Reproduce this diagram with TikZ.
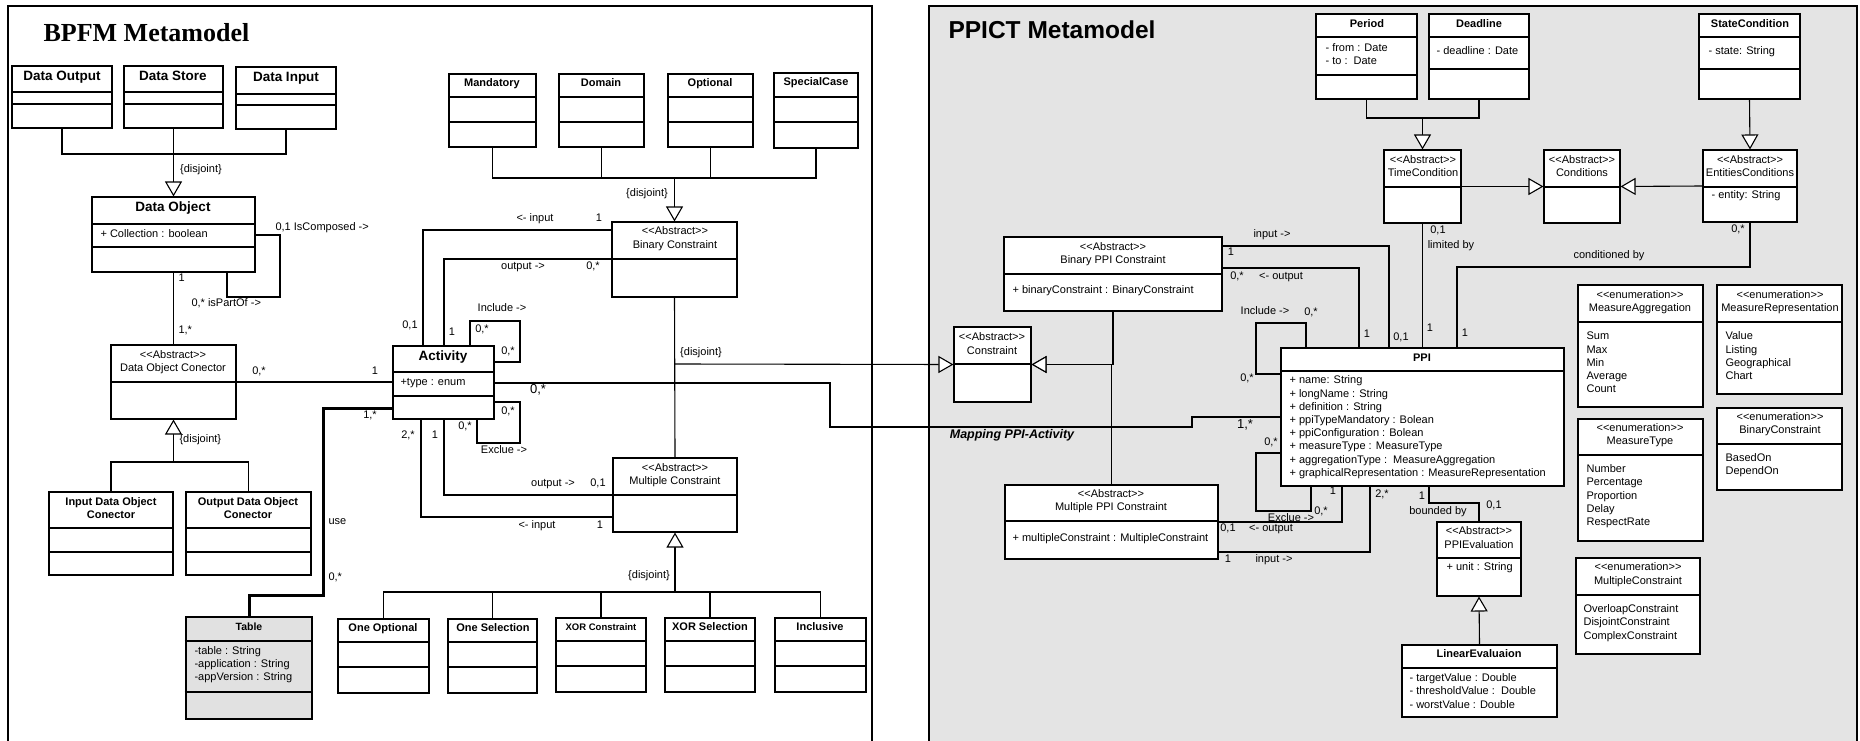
\documentclass[tikz,border=0pt]{standalone}
\usepackage{fontspec}
\setmainfont{Liberation Sans}
\newfontfamily\ttlserif{Liberation Serif}
\usetikzlibrary{arrows.meta,fit}

\definecolor{panelgray}{HTML}{E4E4E4}
\definecolor{tablegray}{HTML}{E1E1E1}

\tikzset{
  cls/.style={draw, fill=white, inner sep=0pt},
  gen/.style={-{Triangle[open,fill=white,length=15pt,width=17pt]}},
  tx/.style={inner sep=0pt, anchor=mid, font=\fontsize{11}{13}\selectfont},
  txl/.style={tx, anchor=mid west},
  nm/.style={tx, font=\bfseries\fontsize{11}{13}\selectfont},
  nmbig/.style={tx, font=\bfseries\fontsize{13.5}{16}\selectfont},
  big/.style={tx, font=\fontsize{13}{15}\selectfont},
}

% class box: [options] name, corner, corner, divider rows
\newcommand{\umlclass}[5][]{%
  \node[cls,#1,fit={(#3) (#4)}] (#2) {};
  \foreach \dy in {#5} {\draw (#2.west |- 0,\dy) -- (#2.east |- 0,\dy);}
}
\newcommand{\stereo}[1]{<\kern0pt<#1>\kern0pt>}

\begin{document}
\begin{tikzpicture}[x=1pt, y=-1pt, line width=1.1pt]
  \useasboundingbox (0,0) rectangle (1860,741);

  % panels
  \draw[fill=panelgray, line width=2.5pt] (929,6) rectangle (1857,760);
  \draw[line width=1.2pt] (8,760) |- (872,6) -- (872,760);
  \node[anchor=base west, inner sep=0pt, font=\ttlserif\bfseries\fontsize{26}{30}\selectfont] (bpfm) at (43,42) {BPFM Metamodel};
  \node[anchor=base west, inner sep=0pt, font=\bfseries\fontsize{24.5}{28}\selectfont] (ppict) at (948,39) {PPICT Metamodel};

  % BPFM classes
  \umlclass{dout}{12,66}{112,128}{92,104}
  \node[nmbig] (dout-n) at (62,78) {Data Output};
  \umlclass{dsto}{124,66}{223,128}{92,104}
  \node[nmbig] (dsto-n) at (173,78) {Data Store};
  \umlclass{dinp}{236,67}{336,129}{94,105}
  \node[nmbig] (dinp-n) at (286,79) {Data Input};

  \umlclass{dobj}{92,197}{255,272}{224,247}
  \node[nmbig] (dobj-n) at (173,209) {Data Object};
  \node[txl] (dobj-a) at (100,235) {+ Collection : boolean};

  \umlclass{doc}{111,345}{236,419}{382}
  \node[tx] (doc-s) at (173,356) {\stereo{Abstract}};
  \node[tx] (doc-n) at (173,369) {Data Object Conector};

  \umlclass{idoc}{49,492}{173,575}{528,552}
  \node[nm] (idoc-n1) at (111,503) {Input Data Object};
  \node[nm] (idoc-n2) at (111,516) {Conector};
  \umlclass{odoc}{186,492}{311,575}{528,552}
  \node[nm] (odoc-n1) at (248,503) {Output Data Object};
  \node[nm] (odoc-n2) at (248,516) {Conector};

  \begin{scope}[line width=2.8pt]
    \umlclass[fill=tablegray]{table}{186,617}{312,719}{641,692}
  \end{scope}
  \node[nm, font=\bfseries\fontsize{10.5}{13}\selectfont] (table-n) at (249,628) {Table};
  \foreach \t [count=\i] in {-table : String, -application : String, -appVersion : String}
    \node[txl] (table-a\i) at (194,{639+13*\i}) {\t};

  \umlclass{act}{393,346}{494,419}{372,396}
  \node[nmbig] (act-n) at (443,358) {Activity};
  \node[txl] (act-a) at (400,383) {+type : enum};

  \umlclass{mand}{449,74}{536,147}{97,122}
  \node[nm] (mand-n) at (492,84) {Mandatory};
  \umlclass{dom}{559,74}{644,147}{97,122}
  \node[nm] (dom-n) at (601,84) {Domain};
  \umlclass{opt}{668,74}{753,147}{97,122}
  \node[nm] (opt-n) at (710,84) {Optional};
  \umlclass{spec}{774,73}{858,148}{97,122}
  \node[nm] (spec-n) at (816,83) {SpecialCase};

  \umlclass{bin}{612,222}{737,297}{259}
  \node[tx] (bin-s) at (675,232) {\stereo{Abstract}};
  \node[tx] (bin-n) at (675,246) {Binary Constraint};
  \umlclass{mul}{613,458}{737,532}{495}
  \node[tx] (mul-s) at (675,469) {\stereo{Abstract}};
  \node[tx] (mul-n) at (675,482) {Multiple Constraint};

  \umlclass{oopt}{338,619}{429,693}{642,667}
  \node[nm] (oopt-n) at (383,629) {One Optional};
  \umlclass{osel}{448,619}{537,693}{642,667}
  \node[nm] (osel-n) at (493,629) {One Selection};
  \umlclass{xorc}{556,618}{646,692}{641,666}
  \node[nm, font=\bfseries\fontsize{9.5}{12}\selectfont] (xorc-n) at (601,628) {XOR Constraint};
  \umlclass{xors}{665,618}{755,692}{641,666}
  \node[nm] (xors-n) at (710,628) {XOR Selection};
  \umlclass{incl}{775,618}{866,692}{641,666}
  \node[nm] (incl-n) at (820,628) {Inclusive};

  % PPICT classes
  \umlclass{per}{1316,14}{1417,99}{37,75}
  \node[nm] (per-n) at (1367,25) {Period};
  \node[txl] (per-a1) at (1325,49) {- from : Date};
  \node[txl] (per-a2) at (1325,62) {- to :\ \ Date};
  \umlclass{dead}{1429,14}{1529,99}{37,69}
  \node[nm] (dead-n) at (1479,25) {Deadline};
  \node[txl] (dead-a) at (1436,52) {- deadline : Date};
  \umlclass{stc}{1699,14}{1800,99}{37,69}
  \node[nm] (stc-n) at (1750,25) {StateCondition};
  \node[txl] (stc-a) at (1708,52) {- state: String};

  \umlclass{tcond}{1384,150}{1461,223}{187}
  \node[tx] (tcond-s) at (1423,161) {\stereo{Abstract}};
  \node[tx] (tcond-n) at (1423,174) {TimeCondition};
  \umlclass{conds}{1544,150}{1620,223}{187}
  \node[tx] (conds-s) at (1582,161) {\stereo{Abstract}};
  \node[tx] (conds-n) at (1582,174) {Conditions};
  \umlclass{econd}{1703,150}{1797,222}{187}
  \node[tx] (econd-s) at (1750,161) {\stereo{Abstract}};
  \node[tx] (econd-n) at (1750,174) {EntitiesConditions};
  \node[txl] (econd-a) at (1711,196) {- entity: String};

  \umlclass{bppi}{1004,237}{1222,311}{274}
  \node[tx] (bppi-s) at (1113,248) {\stereo{Abstract}};
  \node[tx] (bppi-n) at (1113,261) {Binary PPI Constraint};
  \node[txl] (bppi-a) at (1012,291) {+ binaryConstraint : BinaryConstraint};

  \umlclass{cons}{954,327}{1031,402}{364}
  \node[tx] (cons-s) at (992,338) {\stereo{Abstract}};
  \node[tx] (cons-n) at (992,352) {Constraint};

  \umlclass{ppi}{1281,348}{1564,486}{371}
  \node[nm] (ppi-n) at (1422,359) {PPI};
  \foreach \t [count=\i] in {+ name: String, + longName : String, + definition : String,
      + ppiTypeMandatory : Bolean, + ppiConfiguration : Bolean, + measureType : MeasureType,
      + aggregationType :\ \ MeasureAggregation, + graphicalRepresentation : MeasureRepresentation}
    \node[txl] (ppi-a\i) at (1289,{368+13.2*\i}) {\t};

  \umlclass{mppi}{1005,485}{1218,559}{521}
  \node[tx] (mppi-s) at (1111,495) {\stereo{Abstract}};
  \node[tx] (mppi-n) at (1111,508) {Multiple PPI Constraint};
  \node[txl] (mppi-a) at (1012,539) {+ multipleConstraint : MultipleConstraint};

  \umlclass{ppie}{1437,522}{1521,596}{558}
  \node[tx] (ppie-s) at (1479,532) {\stereo{Abstract}};
  \node[tx] (ppie-n) at (1479,546) {PPIEvaluation};
  \node[txl] (ppie-a) at (1446,568) {+ unit : String};

  \umlclass{lin}{1402,645}{1557,717}{668}
  \node[nm] (lin-n) at (1479,655) {LinearEvaluaion};
  \foreach \t [count=\i] in {- targetValue : Double, - thresholdValue :\ \ Double, - worstValue : Double}
    \node[txl] (lin-a\i) at (1409,{665+13.5*\i}) {\t};

  % enumerations
  \umlclass{magg}{1578,285}{1703,407}{322}
  \node[tx] (magg-s) at (1640,296) {\stereo{enumeration}};
  \node[tx] (magg-n) at (1640,309) {MeasureAggregation};
  \foreach \t [count=\i] in {Sum,Max,Min,Average,Count}
    \node[txl] (magg-v\i) at (1586,{324+13.2*\i}) {\t};
  \umlclass{mrep}{1717,285}{1842,394}{322}
  \node[tx] (mrep-s) at (1780,296) {\stereo{enumeration}};
  \node[tx] (mrep-n) at (1780,309) {MeasureRepresentation};
  \foreach \t [count=\i] in {Value,Listing,Geographical,Chart}
    \node[txl] (mrep-v\i) at (1725,{324+13.2*\i}) {\t};
  \umlclass{mtyp}{1578,419}{1703,541}{455}
  \node[tx] (mtyp-s) at (1640,429) {\stereo{enumeration}};
  \node[tx] (mtyp-n) at (1640,442) {MeasureType};
  \foreach \t [count=\i] in {Number,Percentage,Proportion,Delay,RespectRate}
    \node[txl] (mtyp-v\i) at (1586,{456.8+13.2*\i}) {\t};
  \umlclass{bcon}{1717,408}{1842,490}{444}
  \node[tx] (bcon-s) at (1780,418) {\stereo{enumeration}};
  \node[tx] (bcon-n) at (1780,431) {BinaryConstraint};
  \foreach \t [count=\i] in {BasedOn,DependOn}
    \node[txl] (bcon-v\i) at (1725,{445.8+13.2*\i}) {\t};
  \umlclass{mcon}{1576,558}{1700,654}{595}
  \node[tx] (mcon-s) at (1638,568) {\stereo{enumeration}};
  \node[tx] (mcon-n) at (1638,582) {MultipleConstraint};
  \foreach \t [count=\i] in {OverloapConstraint,DisjointConstraint,ComplexConstraint}
    \node[txl] (mcon-v\i) at (1583,{596.8+13.2*\i}) {\t};

  % BPFM connectors
  \coordinate (dj) at (dobj.north |- 0,154);
  \draw (dout.south) |- (dj) -| (dinp.south);
  \draw[gen] (dsto.south) -- (dj) -- (dobj.north);
  \node[tx] (dj-l) at (201,170) {\{disjoint\}};

  \draw (dobj.east |- 0,235) -| (280,297) -| (dobj.south -| 227,0);
  \node[txl] (dobj-l1) at (275,228) {0,1 IsComposed ->};
  \node[txl] (dobj-l2) at (191,304) {0,* isPartOf ->};

  \draw (dobj.south) -- (doc.north);
  \node[txl] (dobj-l3) at (178,279) {1};
  \node[txl] (doc-l1) at (178,331) {1,*};

  \coordinate (dcj) at (doc.south |- 0,462);
  \draw (idoc.north) |- (dcj) -| (odoc.north);
  \draw[gen] (dcj) -- (doc.south);
  \node[txl] (dcj-l) at (179,440) {\{disjoint\}};

  \draw (doc.east |- 0,382) -- (act.west |- 0,382);
  \node[tx] (doc-l2) at (259,372) {0,*};
  \node[tx] (act-l1) at (375,372) {1};

  \draw[line width=3pt] (act.west |- 0,408) -| (323,595) -| (table.north);
  \node[tx] (act-l2) at (370,416) {1,*};
  \node[txl] (use-l) at (328,522) {use};
  \node[txl] (table-l) at (328,578) {0,*};

  \coordinate (bj) at (bin.north |- 0,178);
  \draw (mand.south) |- (bj) -| (spec.south);
  \draw (dom.south) -- (dom.south |- bj);
  \draw (opt.south) -- (opt.south |- bj);
  \draw[gen] (bj) -- (bin.north);
  \node[tx] (bj-l) at (647,194) {\{disjoint\}};

  \draw (bin.west |- 0,230) -| (act.north -| 423,0);
  \node[tx] (bin-l1) at (535,219) {<- input};
  \node[tx] (bin-l2) at (599,219) {1};
  \node[tx] (act-l3) at (410,326) {0,1};
  \draw (bin.west |- 0,259) -| (act.north -| 444,0);
  \node[tx] (bin-l3) at (523,267) {output ->};
  \node[tx] (bin-l4) at (593,267) {0,*};
  \node[tx] (act-l4) at (452,333) {1};

  \draw (act.north -| 470,0) |- (520,321) |- (act.east |- 0,362);
  \node[tx] (inc-l1) at (502,309) {Include ->};
  \node[tx] (inc-l2) at (482,330) {0,*};
  \node[tx] (inc-l3) at (508,352) {0,*};

  \draw (act.south -| 477,0) |- (520,443) |- (act.east |- 0,402);
  \node[tx] (exc-l1) at (508,412) {0,*};
  \node[tx] (exc-l2) at (465,427) {0,*};
  \node[tx] (exc-l3) at (504,451) {Exclue ->};

  \draw (act.south -| 444,0) |- (mul.west |- 0,495);
  \node[tx] (act-l5) at (435,436) {1};
  \node[tx] (mul-l1) at (553,484) {output ->};
  \node[tx] (mul-l2) at (598,484) {0,1};
  \draw (act.south -| 421,0) |- (mul.west |- 0,517);
  \node[tx] (act-l6) at (408,436) {2,*};
  \node[tx] (mul-l3) at (537,526) {<- input};
  \node[tx] (mul-l4) at (600,526) {1};

  \draw (bin.south) -- (mul.north);
  \draw[gen] (bin.south |- 0,364) -- (cons.west);
  \node[tx] (cj-l) at (701,353) {\{disjoint\}};

  \coordinate (mj) at (mul.south |- 0,592);
  \draw (oopt.north) |- (mj) -| (incl.north);
  \draw (osel.north) -- (osel.north |- mj);
  \draw (xorc.north) -- (xorc.north |- mj);
  \draw (xors.north) -- (xors.north |- mj);
  \draw[gen] (mj) -- (mul.south);
  \node[tx] (mj-l) at (649,576) {\{disjoint\}};

  % mapping between the two metamodels
  \draw (act.east |- 0,383) -| (830,427) -| (1192,417) -- (ppi.west |- 0,417);
  \node[big] (map-l1) at (538,391) {0,*};
  \node[big] (map-l2) at (1245,426) {1,*};
  \node[tx, font=\bfseries\itshape\fontsize{12.5}{15}\selectfont] (map-l) at (1012,436) {Mapping PPI-Activity};

  % PPICT connectors
  \coordinate (tj) at (tcond.north |- 0,118);
  \draw (per.south) |- (tj) -| (dead.south);
  \draw[gen] (tj) -- (tcond.north);
  \draw[gen] (stc.south) -- (econd.north);
  \draw[gen] (tcond.east) -- (conds.west);
  \draw[gen] (econd.west) -- (conds.east);

  \draw (tcond.south) -- (tcond.south |- ppi.north);
  \node[tx] (tc-l1) at (1438,231) {0,1};
  \node[tx] (tc-l2) at (1451,246) {limited by};
  \node[tx] (ppi-l1) at (1430,329) {1};

  \draw (econd.south) |- (1457,267) -- (ppi.north -| 1457,0);
  \node[tx] (ec-l1) at (1738,230) {0,*};
  \node[tx] (ec-l2) at (1609,256) {conditioned by};
  \node[tx] (ppi-l2) at (1465,334) {1};

  \draw (bppi.east |- 0,246) -| (ppi.north -| 1389,0);
  \node[tx] (bp-l1) at (1272,235) {input ->};
  \node[tx] (bp-l2) at (1231,253) {1};
  \node[tx] (ppi-l3) at (1401,338) {0,1};
  \draw (bppi.east |- 0,268) -| (ppi.north -| 1359,0);
  \node[tx] (bp-l3) at (1237,277) {0,*};
  \node[tx] (bp-l4) at (1281,277) {<- output};
  \node[tx] (ppi-l4) at (1367,335) {1};

  \draw (ppi.north -| 1306,0) |- (1256,323) |- (ppi.west |- 0,374);
  \node[tx] (pin-l1) at (1265,312) {Include ->};
  \node[tx] (pin-l2) at (1311,313) {0,*};
  \node[tx] (pin-l3) at (1247,379) {0,*};

  \draw (ppi.west |- 0,453) -| (1256,511) -| (ppi.south -| 1311,0);
  \node[tx] (pex-l1) at (1271,443) {0,*};
  \node[tx] (pex-l2) at (1291,519) {Exclue ->};
  \node[tx] (pex-l3) at (1321,512) {0,*};

  \draw (mppi.east |- 0,522) -| (ppi.south -| 1342,0);
  \node[tx] (ppi-l5) at (1333,492) {1};
  \node[tx] (mp-l1) at (1228,529) {0,1};
  \node[tx] (mp-l2) at (1271,529) {<- output};
  \draw (mppi.east |- 0,552) -| (ppi.south -| 1370,0);
  \node[tx] (ppi-l6) at (1382,495) {2,*};
  \node[tx] (mp-l3) at (1228,560) {1};
  \node[tx] (mp-l4) at (1274,560) {input ->};

  \draw[gen] (bppi.south) |- (cons.east);
  \draw[gen] (mppi.north) |- (cons.east);

  \draw (ppi.south -| 1429,0) |- (ppie.north |- 0,503) -- (ppie.north);
  \node[tx] (ppi-l7) at (1422,497) {1};
  \node[tx] (pe-l1) at (1438,512) {bounded by};
  \node[tx] (pe-l2) at (1494,506) {0,1};
  \draw[gen] (lin.north) -- (ppie.south);
\end{tikzpicture}
\end{document}
